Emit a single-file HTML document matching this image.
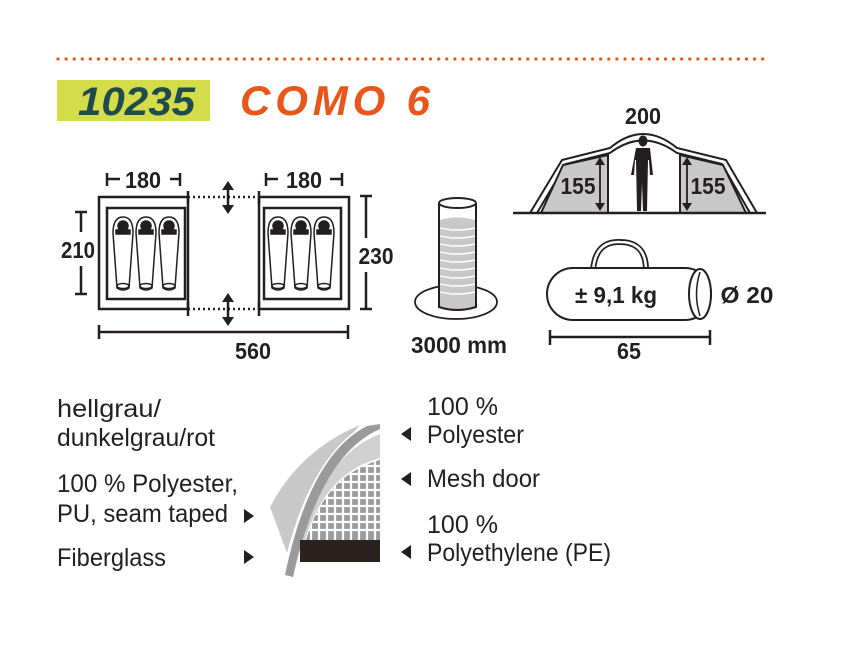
<!DOCTYPE html>
<html><head><meta charset="utf-8"><style>
html,body{margin:0;padding:0;background:#fff;}
svg{display:block}
text{font-family:"Liberation Sans",sans-serif;fill:#231f20}
.b{font-weight:bold;font-size:23px}
.t{font-size:25px}
</style></head><body>
<svg width="852" height="653" viewBox="0 0 852 653" xmlns="http://www.w3.org/2000/svg">
<defs>
<clipPath id="mc"><path d="M380 460 Q325 475 306 540 H380 Z"/></clipPath>
</defs>
<line x1="58" y1="59" x2="765" y2="59" stroke="#e8561a" stroke-width="3.2" stroke-linecap="round" stroke-dasharray="0 8.1"/>
<rect x="57" y="80" width="153" height="41" fill="#d4dc4a"/>
<text x="78" y="115" font-size="40" font-weight="bold" font-style="italic" style="fill:#1f4b4e" textLength="117" lengthAdjust="spacingAndGlyphs">10235</text>
<text x="240" y="115" font-size="42" font-weight="bold" font-style="italic" style="fill:#e8561a" textLength="190" lengthAdjust="spacing">COMO 6</text>

<!-- floor plan -->
<g stroke="#231f20" fill="none" stroke-width="2.5">
<rect x="99" y="197" width="89" height="112"/>
<rect x="107" y="208" width="78" height="91"/>
<rect x="259" y="197" width="90" height="112"/>
<rect x="264" y="208" width="77" height="91"/>
<line x1="188" y1="197" x2="259" y2="197" stroke-dasharray="2 3"/>
<line x1="188" y1="309" x2="259" y2="309" stroke-dasharray="2 3"/>
<line x1="188" y1="191" x2="188" y2="204"/><line x1="259" y1="191" x2="259" y2="204"/>
<line x1="188" y1="302" x2="188" y2="316"/><line x1="259" y1="302" x2="259" y2="316"/>
<line x1="228" y1="185" x2="228" y2="210"/><line x1="228" y1="297" x2="228" y2="322"/>
<line x1="107" y1="173" x2="107" y2="186"/><line x1="107" y1="179" x2="120" y2="179"/>
<line x1="180" y1="173" x2="180" y2="186"/><line x1="170" y1="179" x2="180" y2="179"/>
<line x1="266" y1="173" x2="266" y2="186"/><line x1="266" y1="179" x2="278" y2="179"/>
<line x1="342" y1="173" x2="342" y2="186"/><line x1="330" y1="179" x2="342" y2="179"/>
<line x1="75" y1="212" x2="87" y2="212"/><line x1="75" y1="294" x2="87" y2="294"/>
<line x1="81" y1="212" x2="81" y2="232"/><line x1="81" y1="266" x2="81" y2="294"/>
<line x1="360" y1="196" x2="372" y2="196"/><line x1="360" y1="309" x2="372" y2="309"/>
<line x1="366" y1="196" x2="366" y2="238"/><line x1="366" y1="272" x2="366" y2="309"/>
<line x1="99" y1="332" x2="348" y2="332"/><line x1="99" y1="325" x2="99" y2="339"/><line x1="348" y1="325" x2="348" y2="339"/>
</g>
<g fill="#231f20">
<path d="M228 181 l-6 9 h12z M228 214 l-6 -9 h12z M228 293 l-6 9 h12z M228 326 l-6 -9 h12z"/>
</g>
<g stroke="#231f20" stroke-width="1.5" fill="#fff">
<g id="bag"><path d="M113 233 q0 -16 10 -16 q10 0 10 16 l-4 55 q-6 4 -12 0z"/><circle cx="123" cy="226" r="5" fill="#231f20"/><rect x="116" y="230" width="14" height="4" fill="#231f20"/><ellipse cx="123" cy="286" rx="6" ry="2.5"/></g>
<use href="#bag" x="23"/><use href="#bag" x="46"/>
<use href="#bag" x="155"/><use href="#bag" x="178"/><use href="#bag" x="201"/>
</g>
<text class="b" x="143" y="188" text-anchor="middle" textLength="36" lengthAdjust="spacingAndGlyphs">180</text>
<text class="b" x="304" y="188" text-anchor="middle" textLength="36" lengthAdjust="spacingAndGlyphs">180</text>
<text class="b" x="78" y="258" text-anchor="middle" textLength="34" lengthAdjust="spacingAndGlyphs">210</text>
<text class="b" x="376" y="264" text-anchor="middle" textLength="35" lengthAdjust="spacingAndGlyphs">230</text>
<text class="b" x="253" y="359" text-anchor="middle" textLength="36" lengthAdjust="spacingAndGlyphs">560</text>

<!-- water column -->
<ellipse cx="456" cy="302" rx="41" ry="17" fill="#fff" stroke="#231f20" stroke-width="1.8"/>
<path d="M440 220 q17 -5 35 0 v88 q-17 4 -35 0z" fill="#c8c8c8"/>
<g stroke="#fff" stroke-width="1.5" fill="none">
<path d="M440 228 q17 4 35 0"/><path d="M440 236 q17 4 35 0"/><path d="M440 244 q17 4 35 0"/><path d="M440 252 q17 4 35 0"/><path d="M440 260 q17 4 35 0"/><path d="M440 268 q17 4 35 0"/><path d="M440 276 q17 4 35 0"/><path d="M440 284 q17 4 35 0"/><path d="M440 292 q17 4 35 0"/>
</g>
<path d="M439 203 v104 q18 6 37 0 v-104" fill="none" stroke="#231f20" stroke-width="2"/>
<ellipse cx="457.5" cy="203" rx="18.5" ry="5" fill="#fff" stroke="#231f20" stroke-width="2"/>
<text class="b" x="459" y="353" text-anchor="middle" textLength="96" lengthAdjust="spacingAndGlyphs">3000 mm</text>

<!-- tent side -->
<path d="M530 213 L562 160 L610 148 Q643 120 677 148 L726 160 L757 213" fill="none" stroke="#231f20" stroke-width="2"/>
<path d="M537 213 L566 164 L610 153 Q643 128 677 153 L722 164 L750 213" fill="none" stroke="#231f20" stroke-width="2"/>
<path d="M541 213 L563 165 L608 155 V213z" fill="#c8c8c8" stroke="#231f20" stroke-width="2"/>
<path d="M680 155 L723 165 L746 213 H680z" fill="#c8c8c8" stroke="#231f20" stroke-width="2"/>
<line x1="513" y1="213" x2="766" y2="213" stroke="#231f20" stroke-width="2.5"/>
<g stroke="#231f20" stroke-width="1.8"><line x1="600" y1="162" x2="600" y2="206"/><line x1="687" y1="162" x2="687" y2="206"/></g>
<path d="M600 157 l-5 8 h10z M600 211 l-5 -8 h10z M687 157 l-5 8 h10z M687 211 l-5 -8 h10z" fill="#231f20"/>
<text class="b" x="578" y="194" text-anchor="middle" textLength="35" lengthAdjust="spacingAndGlyphs">155</text>
<text class="b" x="708" y="194" text-anchor="middle" textLength="35" lengthAdjust="spacingAndGlyphs">155</text>
<text class="b" x="643" y="124" text-anchor="middle" textLength="36" lengthAdjust="spacingAndGlyphs">200</text>
<ellipse cx="643" cy="141" rx="4.5" ry="5.5" fill="#231f20"/>
<path d="M636 148 h14 l3 27 h-3 l-1 -15 l-1 0 l-1 51 h-4 l-1 -28 l-1 28 h-4 l-1 -51 l-1 0 l-1 15 h-3z" fill="#231f20"/>

<!-- bag -->
<path d="M593 271 q2 -30 27 -29 q26 0 26 28" fill="none" stroke="#231f20" stroke-width="6"/>
<path d="M593 271 q2 -30 27 -29 q26 0 26 28" fill="none" stroke="#fff" stroke-width="2.5"/>
<rect x="547" y="268" width="164" height="52" rx="26" fill="#fff" stroke="#231f20" stroke-width="2"/>
<ellipse cx="700" cy="294" rx="11" ry="25" fill="#fff" stroke="#231f20" stroke-width="2"/>
<path d="M700 272 q-7 22 0 44" fill="none" stroke="#231f20" stroke-width="1.5"/>
<text class="b" x="616" y="303" text-anchor="middle" textLength="82" lengthAdjust="spacingAndGlyphs">± 9,1 kg</text>
<text class="b" x="747" y="303" text-anchor="middle" textLength="53" lengthAdjust="spacingAndGlyphs">Ø 20</text>
<g stroke="#231f20" stroke-width="2.5"><line x1="550" y1="337" x2="710" y2="337"/><line x1="550" y1="330" x2="550" y2="345"/><line x1="710" y1="330" x2="710" y2="345"/></g>
<text class="b" x="629" y="359" text-anchor="middle" textLength="24" lengthAdjust="spacingAndGlyphs">65</text>

<!-- fabric graphic -->
<path d="M270 507 Q300 450 360 425 L355 431 Q310 465 287 553 Z" fill="#c8c8c8"/>
<g clip-path="url(#mc)">
<rect x="300" y="450" width="82" height="92" fill="#9a9a9a"/>
<g stroke="#fff" stroke-width="2.2">
<line x1="300" y1="466" x2="382" y2="466"/><line x1="300" y1="474" x2="382" y2="474"/><line x1="300" y1="482" x2="382" y2="482"/><line x1="300" y1="490" x2="382" y2="490"/><line x1="300" y1="498" x2="382" y2="498"/><line x1="300" y1="506" x2="382" y2="506"/><line x1="300" y1="514" x2="382" y2="514"/><line x1="300" y1="522" x2="382" y2="522"/><line x1="300" y1="530" x2="382" y2="530"/>
<line x1="311" y1="450" x2="311" y2="540"/><line x1="319" y1="450" x2="319" y2="540"/><line x1="327" y1="450" x2="327" y2="540"/><line x1="335" y1="450" x2="335" y2="540"/><line x1="343" y1="450" x2="343" y2="540"/><line x1="351" y1="450" x2="351" y2="540"/><line x1="359" y1="450" x2="359" y2="540"/><line x1="367" y1="450" x2="367" y2="540"/><line x1="375" y1="450" x2="375" y2="540"/>
</g>
</g>
<path d="M380 434 Q325 455 299 540 H305 Q325 473 380 458 Z" fill="#d0d0d0"/>
<path d="M367 426 L380 424 L380 429 Q320 455 293 577 L285 575 Q310 455 367 426 Z" fill="#9a9a9a"/>
<rect x="300" y="540" width="80" height="22" fill="#2b2220"/>

<!-- labels -->
<text class="t" x="57" y="417" textLength="104" lengthAdjust="spacingAndGlyphs">hellgrau/</text>
<text class="t" x="57" y="446" textLength="158" lengthAdjust="spacingAndGlyphs">dunkelgrau/rot</text>
<text class="t" x="57" y="492" textLength="181" lengthAdjust="spacingAndGlyphs">100 % Polyester,</text>
<text class="t" x="57" y="522" textLength="171" lengthAdjust="spacingAndGlyphs">PU, seam taped</text>
<text class="t" x="57" y="566" textLength="109" lengthAdjust="spacingAndGlyphs">Fiberglass</text>
<text class="t" x="427" y="415" textLength="71" lengthAdjust="spacingAndGlyphs">100 %</text>
<text class="t" x="427" y="443" textLength="97" lengthAdjust="spacingAndGlyphs">Polyester</text>
<text class="t" x="427" y="487" textLength="113" lengthAdjust="spacingAndGlyphs">Mesh door</text>
<text class="t" x="427" y="533" textLength="71" lengthAdjust="spacingAndGlyphs">100 %</text>
<text class="t" x="427" y="561" textLength="184" lengthAdjust="spacingAndGlyphs">Polyethylene (PE)</text>
<path d="M244 509 l10 7 l-10 7z M244 550 l10 7 l-10 7z M411 427 l-10 7 l10 7z M411 472 l-10 7 l10 7z M411 545 l-10 7 l10 7z" fill="#231f20"/>
</svg>
</body></html>
